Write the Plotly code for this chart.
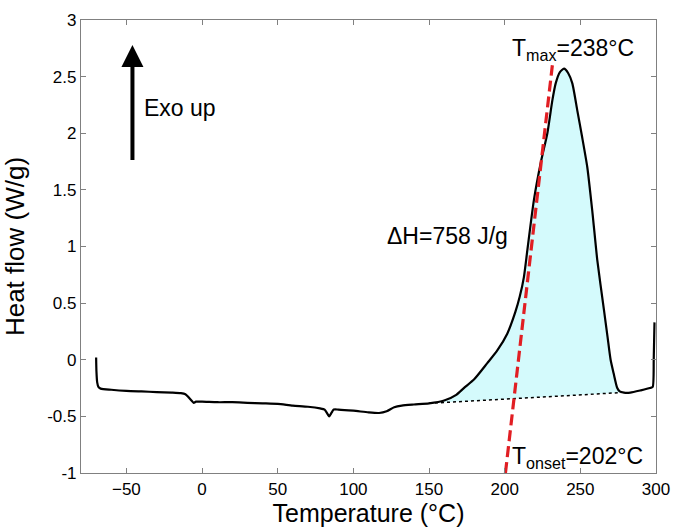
import plotly.graph_objects as go

# DSC curve: temperature (°C) and heat flow (W/g)
temperature = [-70, -69.8, -69.3, -68.5, -67, -60, -50, -40, -30, -20, -14, -11, -9, -7, -5.5, -4,
               0, 10, 20, 30, 40, 50, 60, 70, 78, 81, 83, 84, 85.5, 87, 90, 100, 110, 117, 122,
               127, 132, 140, 150, 160, 168, 173, 180, 188.5, 195, 201.7, 207, 210, 212.7, 215,
               219.3, 224, 228.2, 231.5, 233.7, 236.5, 239.2, 242, 244.7, 248, 251, 254.6, 258,
               261.2, 265.6, 268, 270, 272, 274.4, 276, 278.8, 283, 290, 296, 297.8, 298.5, 299]
heat_flow = [0.02, -0.1, -0.2, -0.24, -0.255, -0.265, -0.275, -0.28, -0.285, -0.29, -0.295, -0.305,
             -0.33, -0.36, -0.38, -0.37, -0.37, -0.375, -0.375, -0.38, -0.385, -0.39, -0.405,
             -0.415, -0.43, -0.44, -0.48, -0.5, -0.47, -0.44, -0.44, -0.45, -0.465, -0.47, -0.455,
             -0.42, -0.405, -0.395, -0.385, -0.36, -0.31, -0.25, -0.17, -0.03, 0.08, 0.23, 0.42,
             0.56, 0.73, 0.97, 1.41, 1.75, 2.0, 2.29, 2.44, 2.54, 2.57, 2.53, 2.44, 2.2, 1.98, 1.70,
             1.30, 0.88, 0.44, 0.2, 0.0, -0.12, -0.25, -0.28, -0.29, -0.29, -0.27, -0.25, -0.24,
             0.0, 0.33]

# integration baseline endpoints
baseline_T = [150, 277]
baseline_HF = [-0.385, -0.29]

# onset tangent line endpoints
tangent_T = [200.5, 231.5]
tangent_HF = [-1.0, 2.6]

# arrow "Exo up"
arrow_T = -46
arrow_HF = [1.75, 2.78]

x_ticks = [-50, 0, 50, 100, 150, 200, 250, 300]
y_ticks = [-1, -0.5, 0, 0.5, 1, 1.5, 2, 2.5, 3]
y_ticklabels = ["-1", "-0.5", "0", "0.5", "1", "1.5", "2", "2.5", "3"]

FONT = "Liberation Sans, Arial, sans-serif"

# fill polygon: baseline start -> curve points inside -> baseline end
fill_T = [baseline_T[0]] + [t for t in temperature if baseline_T[0] < t < baseline_T[1]] + [baseline_T[1]]
fill_HF = [baseline_HF[0]] + [h for t, h in zip(temperature, heat_flow) if baseline_T[0] < t < baseline_T[1]] + [baseline_HF[1]]

fig = go.Figure()
fig.add_trace(go.Scatter(x=fill_T, y=fill_HF, fill="toself", mode="none",
                         line=dict(shape="spline", smoothing=0.6),
                         fillcolor="rgb(212,250,252)", hoverinfo="skip", showlegend=False))
fig.add_trace(go.Scatter(x=baseline_T, y=baseline_HF, mode="lines",
                         line=dict(color="black", width=1.5, dash="dot"), showlegend=False))
fig.add_trace(go.Scatter(x=temperature, y=heat_flow, mode="lines",
                         line=dict(color="black", width=2.2, shape="spline", smoothing=0.6),
                         showlegend=False))
fig.add_trace(go.Scatter(x=tangent_T, y=tangent_HF, mode="lines",
                         line=dict(color="rgb(225,30,35)", width=3.2, dash="11px,5px"),
                         showlegend=False))

annotations = [
    dict(x=arrow_T, y=arrow_HF[1], ax=arrow_T, ay=arrow_HF[0], xref="x", yref="y",
         axref="x", ayref="y", showarrow=True, arrowhead=2, arrowsize=1.1, arrowwidth=4,
         arrowcolor="black", text=""),
    dict(x=-39.7, y=2.22, text="Exo up", showarrow=False, xanchor="left", yanchor="middle",
         font=dict(size=23, color="black", family=FONT)),
    dict(x=121, y=1.09, text="ΔH=758 J/g", showarrow=False, xanchor="left", yanchor="middle",
         font=dict(size=23, color="black", family=FONT)),
    dict(x=203.5, y=2.74, text="T<sub>max</sub>=238°C", showarrow=False, xanchor="left",
         yanchor="middle", font=dict(size=23, color="black", family=FONT)),
    dict(x=203.5, y=-0.86, text="T<sub>onset</sub>=202°C", showarrow=False, xanchor="left",
         yanchor="middle", font=dict(size=23, color="black", family=FONT)),
]

axis_common = dict(showline=True, linecolor="rgb(128,128,128)", linewidth=1.2, mirror="ticks",
                   ticks="inside", ticklen=5, tickcolor="rgb(128,128,128)", tickwidth=1.2,
                   showgrid=False, zeroline=False, automargin=False,
                   tickfont=dict(size=17, color="black", family=FONT))

fig.update_layout(
    width=674, height=527,
    margin=dict(l=81, r=18, t=20, b=54),
    plot_bgcolor="white", paper_bgcolor="white",
    showlegend=False,
    annotations=annotations,
    xaxis=dict(range=[-80, 300], tickvals=x_ticks,
               title=dict(text="Temperature (°C)", font=dict(size=25, color="black", family=FONT)),
               **axis_common),
    yaxis=dict(range=[-1, 3], tickvals=y_ticks, ticktext=y_ticklabels,
               title=dict(text="Heat flow (W/g)", font=dict(size=26, color="black", family=FONT)),
               **axis_common),
)

fig.write_html("out.html", config={"displayModeBar": False},
               post_script="document.body.style.margin='0';document.body.style.overflow='hidden';")
